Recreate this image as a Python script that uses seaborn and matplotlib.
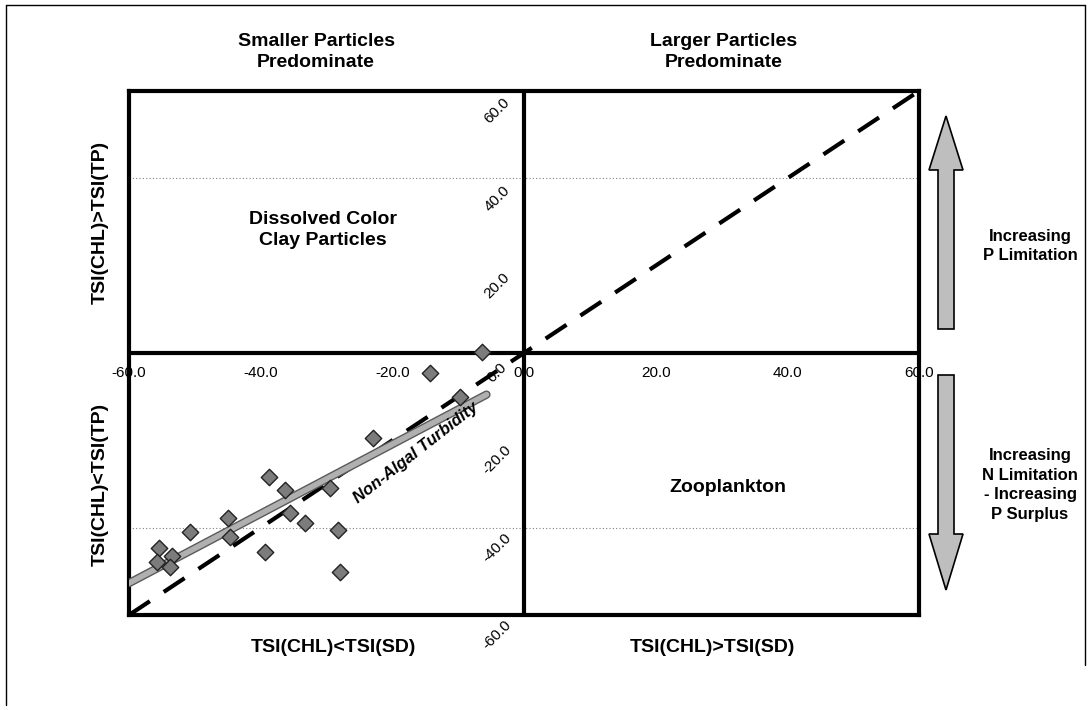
import numpy as np
import matplotlib.pyplot as plt
import matplotlib.patches as mpatches
import matplotlib.patheffects as pe
from matplotlib.lines import Line2D
import seaborn as sns
import pandas as pd

# TSI deviations
chl_sd = [-14.3, -9.7, -6.4, -22.9, -38.8, -36.3, -29.5, -35.5, -33.3, -28.2,
          -44.9, -50.7, -44.7, -55.5, -53.5, -55.8, -53.8, -39.3, -28.0]
chl_tp = [-4.6, -10.0, 0.3, -19.5, -28.3, -31.4, -31.0, -36.7, -39.0, -40.5,
          -37.9, -40.9, -42.1, -44.7, -46.6, -47.8, -48.9, -45.5, -50.2]

ticks = [-60, -40, -20, 0, 20, 40, 60]
tick_labels = ["%.1f" % t for t in ticks]
grid_y = [-40, 40]
identity_x = [-60, 60]

# non-algal turbidity trend line
trend_slope = 0.795
trend_intercept = -5.0
trend_x = [-60, -5.7]

df = pd.DataFrame({"sd": chl_sd, "tp": chl_tp})
trend = pd.DataFrame({"x": trend_x})
trend["y"] = trend_slope * trend["x"] + trend_intercept
ident = pd.DataFrame({"x": identity_x, "y": identity_x})

sns.set_style("white")
plt.rcParams["font.family"] = ["Liberation Sans", "DejaVu Sans"]
plt.rcParams["text.color"] = "black"

W, H = 1090, 710
fig = plt.figure(figsize=(W / 100, H / 100), dpi=100)

# overlay in pixel coords for the page decorations
bg = fig.add_axes([0, 0, 1, 1], zorder=0)
bg.set_xlim(0, W)
bg.set_ylim(H, 0)
bg.axis("off")

ax = fig.add_axes([129 / W, 1 - 615 / H, 790 / W, 524 / H], zorder=1)
ax.set_xlim(-60, 60)
ax.set_ylim(-60, 60)
ax.patch.set_alpha(0)

for g in grid_y:
    ax.axhline(g, color="#808080", lw=0.8, ls=(0, (1, 2)), zorder=1)

ax.axhline(0, color="black", lw=3, zorder=2.6)
ax.axvline(0, color="black", lw=3, zorder=2.6)
for s in ax.spines.values():
    s.set_visible(True)
    s.set_color("black")
    s.set_linewidth(3)
ax.set_xticks([])
ax.set_yticks([])

sns.lineplot(data=ident, x="x", y="y", ax=ax, color="black", lw=3,
             dashes=False, zorder=3)
ax.lines[-1].set_dashes((6, 4))

sns.lineplot(data=trend, x="x", y="y", ax=ax, color="#b0b0b0", lw=4, zorder=3.5,
             path_effects=[pe.Stroke(linewidth=6, foreground="#5a5a5a"), pe.Normal()])

sns.scatterplot(data=df, x="sd", y="tp", ax=ax, marker="D", s=70,
                color="#7c7c7c", edgecolor="#222222", linewidth=1, zorder=4)
ax.set_xlabel("")
ax.set_ylabel("")

# tick labels along the centre axes
for t, lab in zip(ticks, tick_labels):
    ax.text(t, -4.6, lab, ha="center", va="center", fontsize=11, zorder=1)
    ax.text(-4.1, t - 4.6, lab, ha="center", va="center", fontsize=11,
            rotation=45, zorder=1)

ax.text(-16.4, -22.9, "Non-Algal Turbidity", rotation=38, ha="center", va="center",
        fontsize=12, fontweight="bold", fontstyle="italic", zorder=5)

ax.text(-30.5, 28.2, "Dissolved Color\nClay Particles", ha="center", va="center",
        fontsize=14, fontweight="bold", linespacing=1.35)
ax.text(31, -30.7, "Zooplankton", ha="center", va="center",
        fontsize=14, fontweight="bold")

# labels around the plot
bold = dict(fontsize=14, fontweight="bold", ha="center", va="center")
bg.text(316, 52, "Smaller Particles\nPredominate", linespacing=1.3, **bold)
bg.text(724, 52, "Larger Particles\nPredominate", linespacing=1.3, **bold)
bg.text(333, 647, "TSI(CHL)<TSI(SD)", **bold)
bg.text(712, 647, "TSI(CHL)>TSI(SD)", **bold)
bg.text(100, 222, "TSI(CHL)>TSI(TP)", rotation=90, **bold)
bg.text(100, 484, "TSI(CHL)<TSI(TP)", rotation=90, **bold)

side = dict(fontsize=12, fontweight="bold", ha="center", va="center", linespacing=1.38)
bg.text(1030, 246, "Increasing\nP Limitation", **side)
bg.text(1030, 485, "Increasing\nN Limitation\n- Increasing\nP Surplus", **side)

# double arrows on the right
cx = 946
up = [(cx - 8, 329), (cx - 8, 170), (cx - 17, 170), (cx, 116),
      (cx + 17, 170), (cx + 8, 170), (cx + 8, 329)]
down = [(cx - 8, 375), (cx - 8, 534), (cx - 17, 534), (cx, 590),
        (cx + 17, 534), (cx + 8, 534), (cx + 8, 375)]
for pts in (up, down):
    bg.add_patch(mpatches.Polygon(pts, closed=True, facecolor="#bebebe",
                                  edgecolor="black", lw=1.2))

# page frame of the scan
for xs, ys in [((6, 6), (5, 705)), ((6, 1085), (5, 5)), ((1085, 1085), (5, 665))]:
    bg.add_line(Line2D(xs, ys, color="black", lw=1))

fig.savefig("out.png", dpi=100)
